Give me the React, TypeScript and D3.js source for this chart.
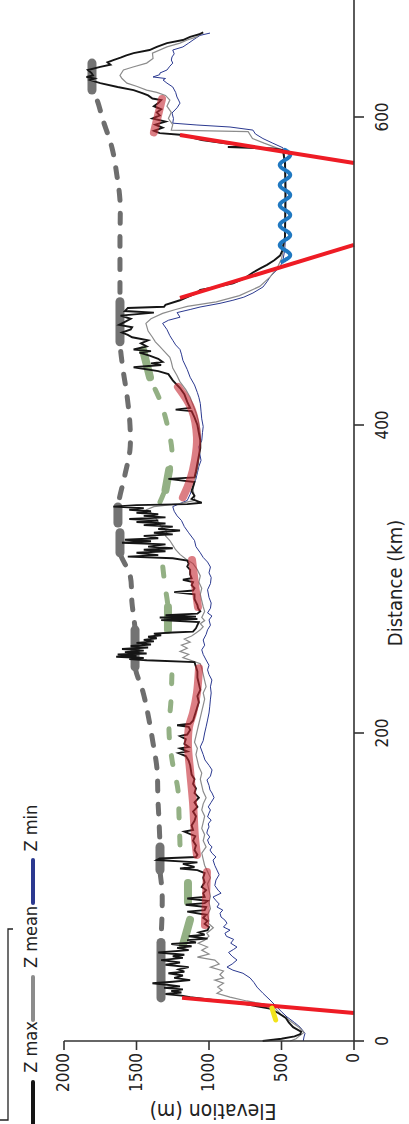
import React from "react";
import * as d3 from "d3";

// ---------- data (distance km, elevation m) ----------
const zMax: number[][] = [
[0,630],[1.5,500],[3,410],[4.5,370],[6,365],[9,420],[12,450],[15,470],[18,520],[21,580],[24,750],[26.5,960],[28.5,1130],[29.5,1190],
[30.5,1300],[31.5,1190],[32.5,1260],[33.5,1180],[34.5,1310],[35.5,1200],[36.5,1290],[37.5,1390],[38.5,1250],[39.5,1130],[41,1240],[42.5,1180],[44,1280],[45,1170],[46.5,1210],[48,1140],[49.5,1300],[51,1200],[52.5,1330],[54,1180],[55,1250],[56,1170],[57.5,1350],[59,1140],[60.5,1220],[61.5,1120],[63,1260],[64,1090],[65.5,1150],[66.5,1010],[68,1140],[69,1030],[70.5,1070],[72,1010],
[74,1000],[76,1030],[78,1010],[80,1040],[82,1020],[84,1150],[85,1030],[87,1020],[88.5,1160],[89.5,1030],[91,1010],[92.5,1150],[93.5,1030],[96,1040],[98,1020],[100,1050],[103,1030],[106,1040],[109,1030],[111,1080],[112,1200],[113,1100],[115,1180],[116,1080],[117.5,1360],[118.5,1340],[119.5,1090],
[121,1080],[124,1100],[127,1090],[130,1110],[133,1095],[136,1170],[137,1110],[140,1120],[143,1100],[146,1090],[149,1110],[152,1080],[155,1100],[158,1070],[161,1100],[164,1090],[167,1110],[170,1100],[173,1120],[176,1125],[179,1130],[182,1140],[185,1160],[187,1210],[188,1150],[190,1200],[191,1140],[193,1170],[196,1160],[198,1200],[199,1150],[202,1130],[204,1140],[205,1220],[206,1130],[208,1110],[211,1100],[214,1090],[217,1080],[220,1070],[224,1080],[228,1060],[232,1070],[236,1080],[240,1080],[243,1090],[246,1100],
[247.2,1430],[248,1550],[248.7,1450],[249.5,1640],[250.2,1500],[251,1630],[251.6,1430],[252.5,1580],[253.5,1450],[254.5,1600],[255.5,1420],[256.5,1540],[257.5,1400],[258.5,1500],[259.5,1380],[260.5,1450],[261.5,1360],[262.5,1420],[263.5,1330],[264.5,1380],[265.3,1250],[265.8,1110],
[268,1090],[270,1080],[272,1070],[273.3,1330],[274,1080],[275,1340],[275.6,1090],[276.5,1300],[277.5,1080],[279,1060],
[281,1075],[283,1080],[285,1090],[287,1100],[290,1100],[291.5,1240],[292.5,1110],[294,1100],[296,1120],[298,1110],[299.5,1180],[300.5,1120],[303,1130],[306,1130],[308,1150],[310,1140],[312,1150],
[313.5,1250],[314.5,1560],[315.5,1350],[317,1500],[318,1300],[319,1450],[320,1250],[321,1420],[322.5,1300],[323.5,1600],[324.5,1400],[325.5,1580],[326.5,1350],[328,1450],[329,1250],[330,1380],[331.5,1200],[332.5,1350],[334,1250],[335,1450],[336,1300],[337,1500],[338,1350],[339,1550],[340,1300],[341,1450],[342,1350],[343,1500],[344,1400],[345,1550],[346,1450],[347,1660],[348,1500],[348.6,1150],[349.5,1050],
[352,1120],[354,1100],[357,1120],[360,1110],[363,1100],[365,1280],[366,1100],[370,1090],[375,1080],[380,1070],[385,1060],[390,1060],[395,1070],[400,1080],[405,1100],[409,1120],[410,1230],[411,1130],[415,1150],[420,1170],[424,1200],
[429,1250],[433,1280],[435,1350],[437.5,1520],[439,1330],[440,1400],[441,1320],[443,1350],[445,1410],[447,1480],[448,1400],[449,1520],[451,1430],[453,1470],[455,1420],[457,1530],[458.5,1560],[460,1600],[462,1540],[463.5,1530],[465,1620],[467,1580],[469,1540],[471,1610],[473,1380],[474,1580],[476,1560],[476.8,1310],[478,1300],[481,1200],
[483,1150],[485.5,1090],[487.7,1060],[490,930],[492,834],[495,760],[499,697],[502,640],[504,600],[507,550],[510,510],[513,495],[516,490],[522,476],[530,475],[540,474],[550,473],[560,474],[570,476],[578.5,490],
[579.5,560],[580.5,870],[581,700],[583,900],[585,1050],[587,1130],[588.5,1200],[589.5,1340],
[591,1380],[593,1320],[595,1370],[597,1300],[599,1390],[601,1340],[603,1360],[605,1330],[607,1380],[609,1350],[611,1330],[612,1390],[614,1420],[615.5,1460],[617.5,1520],[619.5,1630],[622,1750],[624,1820],[625,1790],[626,1845],[627,1800],[628.5,1810],[630.5,1835],[632.5,1750],[634,1680],[635.5,1700],[637,1660],[638.5,1610],[640,1570],[641.5,1520],[643.5,1410],[645.5,1360],[648,1290],[650,1180],[652,1130],[654,1060],[655,1040]
];

const zMean: number[][] = [
[0,440],[1.5,400],[3,380],[5.5,345],[9,380],[13,440],[17,500],[21,540],[24,620],[26,740],[28.5,855],[31,945],[33,910],[35,940],[37.5,900],[39.5,960],[41,900],[43,925],[45.5,900],[48,990],[50,930],[52.5,960],[54.5,1080],[56.5,1000],[59,1050],[61,1010],[63.5,1075],[65.5,1030],[68,1000],[70,1015],[73.5,970],[76.5,1005],
[78,1000],[82,1010],[86,990],[90,1000],[94,990],[98,1000],[102,1010],[106,990],[110,1010],[114,1030],[118,1040],[122,1050],[126,1020],[130,1040],[134,1030],[138,1050],[142,1040],[146,1030],[150,1050],[154,1040],[158,1020],[162,1040],[166,1050],[170,1060],[174,1050],[178,1070],[182,1080],[186,1090],[190,1080],[194,1100],[198,1090],[202,1080],[206,1070],[210,1060],[214,1050],[218,1040],[222,1030],[226,1040],[230,1020],[234,1030],[238,1040],[242,1050],[245,1060],[247,1120],[249,1180],[251,1140],[253,1200],[255,1150],[257,1190],[259,1130],[261,1170],[263,1120],[265,1090],[267,1060],[269,1040],[271,1060],[273,1030],[275,1050],[277,1040],[279,1030],[282,1040],[286,1050],[290,1060],[294,1050],[298,1070],[302,1060],[306,1080],[310,1110],[313,1160],[316,1200],[319,1230],[322,1250],[325,1270],[328,1300],[331,1290],[334,1330],[337,1350],[340,1370],[343,1400],[345,1430],[347,1380],[349,1200],[351,1100],[353,1100],[358,1110],[363,1100],[368,1090],[373,1075],[378,1070],[383,1065],[388,1060],[393,1060],[398,1065],[403,1075],[408,1090],[413,1110],[418,1130],[423,1160],[428,1200],[432,1220],[437,1250],[441,1260],[444,1270],[448,1310],[451,1340],[454,1370],[457,1390],[461,1420],[466,1435],[469,1400],[472.5,1320],[475,1230],[477,1150],[480,950],[484,790],[490,650],[496,580],[502,530],[508,500],[514,485],[520,478],[530,475],[540,474],[550,473],[560,474],[570,476],[578.5,490],[583,620],[586,700],[590.5,730],[591.5,1260],[595,1250],[599,1280],[603,1260],[607,1290],[611,1270],[614,1300],[616,1360],[617.5,1430],[620,1500],[622,1566],[625,1600],[627,1614],[630.5,1590],[632.5,1524],[635,1430],[638,1386],[641.5,1390],[645.5,1290],[648,1200],[650,1150],[652,1085],[654.5,1060]
];

const zMin: number[][] = [
[0,350],[2.6,345],[5,338],[9,372],[12,410],[15.6,462],[19,500],[22,531],[26.6,579],[31,628],[35,669],[38,690],[41,717],[44,766],[46,835],[48,876],[50,840],[52.6,807],[55,840],[57.5,865],[59.5,830],[61,807],[63.5,850],[66,830],[68,880],[70,890],[72,855],[74,900],[76.5,876],[78.5,890],[80.5,917],[83,924],[85,905],[87,945],[89,930],[91,950],[93.5,972],[96,917],[98,938],[101,960],[104.5,952],[108,930],[111,945],[114,960],[117.5,972],[119.5,952],[122,980],[124,993],[126,979],[128,1000],[130.5,1010],[132.5,995],[135,1015],[137,1010],[139,1000],[141,1005],[143.5,985],[145.5,1010],[148,1000],[150,990],[152,1005],[155,985],[158,965],[161,979],[163,993],[166,1000],[169.5,1014],[172,990],[176,979],[179,1000],[182.5,1028],[186,1040],[191,1060],[195,1040],[200,1030],[204,1020],[208.4,1010],[213,1000],[217,995],[222,990],[226,985],[230,990],[234.4,980],[238,1000],[241,1010],[244,1000],[247.4,1020],[251,1040],[254,1050],[257,1030],[260.4,1040],[264,1020],[267,1010],[270,990],[273.4,1000],[276,980],[278,1010],[281,990],[284.4,985],[288,1000],[293,1010],[297,990],[301,985],[304,1000],[307.8,990],[311,1010],[314,1040],[317,1060],[321,1090],[325,1100],[330,1140],[334,1170],[338,1190],[341,1220],[344,1240],[347,1250],[349,1200],[351,1150],[355,1130],[360,1110],[365,1090],[369,1080],[373,1070],[377,1055],[382,1065],[386,1070],[390,1050],[395,1045],[399,1040],[404,1050],[409,1055],[414,1060],[418,1070],[421,1080],[426,1100],[431,1130],[436,1150],[442,1180],[446,1190],[449,1200],[452,1230],[455,1250],[458,1270],[462,1290],[466,1320],[468,1280],[470,1200],[473,1220],[475,1130],[476.6,1062],[479,924],[481,835],[483,760],[485.7,697],[489.6,628],[493,600],[496,580],[500,540],[502.6,510],[507,490],[513.6,478],[520,474],[530,472],[540,471],[550,470],[560,471],[570,472],[580,490],[583,560],[586,628],[589,680],[591.5,697],[593.5,855],[594.8,1083],[596,1250],[599,1245],[602.6,1255],[606,1220],[609,1200],[611,1210],[613,1221],[616,1230],[619.5,1250],[622,1290],[624,1317],[625,1300],[626,1386],[627.5,1340],[628.6,1338],[630.5,1290],[633,1270],[635,1250],[637,1260],[639,1255],[641,1240],[643.5,1250],[645.5,1180],[648,1140],[650,1110],[653,1062],[654.5,993]
];

// envelope of summits (gray dashed) and its thick marks
const summitEnvelope: number[][] = [
[28,1331],[64,1331],[82,1324],[98,1324],[111,1338],[126,1338],[143.5,1345],[156.5,1352],[177,1359],[193.5,1386],[211.7,1420],[226.6,1455],[243,1510],[267,1510],[284.4,1531],[302.6,1545],[317,1614],[330,1614],[336.4,1628],[346.8,1628],[367.5,1580],[384,1545],[400,1545],[419.5,1566],[436,1593],[454,1614],[480,1614],[494,1614],[520,1614],[546,1614],[562,1635],[580,1669],[598,1731],[611,1772],[617.5,1807],[635,1807]
];
const summitMarks: number[][][] = [
[[28,1331],[64,1331]],
[[111,1338],[126,1338]],
[[243,1510],[267,1510]],
[[317,1614],[330,1614]],
[[336.4,1628],[346.8,1628]],
[[454,1614],[480,1614]],
[[617.5,1807],[635,1807]]
];

// green dashed arcs and their thick marks
const greenArcs: number[][][] = [
[[127.3,1200],[146.8,1207],[163,1214],[182.5,1255],[202,1276],[221.4,1262],[241,1255]],
[[267,1283],[281.8,1283],[296,1304],[312.3,1324]],
[[350,1338],[357.8,1304],[370.8,1269],[382.5,1255],[401,1290],[416,1338],[431,1407],[448.7,1455]]
];
const greenMarks: number[][][] = [
[[62.3,1180],[78.6,1131]],
[[90.3,1145],[102.6,1145]],
[[267,1283],[281.8,1283]],
[[357.8,1300],[370.8,1275]],
[[431,1407],[448.7,1455]]
];

// red translucent segments
const redSegments: number[][][] = [
[[75.3,1028],[109.7,1014]],
[[120.8,1083],[132.5,1097],[154.5,1110],[176,1131],[192,1145],[204,1138],[213,1110],[226,1083],[242,1069]],
[[281.8,1076],[297,1097],[312.3,1117]],
[[353,1180],[364,1131],[377,1097],[392,1083],[409.7,1117],[424.7,1214]],
[[590,1380],[611.7,1324]]
];

// bright red fault lines
const faults: number[][][] = [
[[28,1186],[18.2,0]],
[[482.5,1200],[517,0]],
[[588.3,1200],[570.1,0]]
];

const yellowSeg: number[][] = [[13.6,540],[21.4,566]];

const waveExtent = [505.8, 578.6];
const waveCenter = 476;
const wavePeriod = 13;
const waveAmp = 36;

const distTicks = [0, 200, 400, 600];
const elevTicks = [0, 500, 1000, 1500, 2000];

const legendItems = [
  { label: "Z max", color: "#151515" },
  { label: "Z mean", color: "#8c8c8c" },
  { label: "Z min", color: "#2b3990" },
];

const FONT = "'Liberation Sans Narrow', 'DejaVu Sans Condensed', 'Arial Narrow', sans-serif";

export default function App() {
  const yS = d3.scaleLinear().domain([0, 600]).range([1041, 117]);
  const xS = d3.scaleLinear().domain([0, 2000]).range([354, 64]);

  const lin = d3.line<number[]>().x(p => xS(p[1])).y(p => yS(p[0]));
  const smooth = d3.line<number[]>().x(p => xS(p[1])).y(p => yS(p[0])).curve(d3.curveCatmullRom.alpha(0.5));

  const wavePts: number[][] = [];
  for (let d = waveExtent[1]; d >= waveExtent[0]; d -= 0.2) {
    wavePts.push([d, waveCenter + waveAmp * Math.sin((2 * Math.PI * (d - waveExtent[1])) / wavePeriod)]);
  }

  const legendY = [1047, 937, 828];
  const legendLine = [[1082, 1130], [977, 1020], [860, 903]];

  return (
    <svg width={409} height={1124} style={{ position: "absolute", left: 0, top: 0, background: "#fff" }} fontFamily={FONT}>
      {/* summit envelope */}
      <path d={smooth(summitEnvelope) || ""} fill="none" stroke="#6e6e6e" strokeWidth={5} strokeDasharray="10 13" strokeLinecap="round" />
      {summitMarks.map((s, i) => (
        <path key={"sm" + i} d={lin(s) || ""} fill="none" stroke="#737373" strokeWidth={9} strokeLinecap="round" />
      ))}
      {/* green arcs */}
      {greenArcs.map((s, i) => (
        <path key={"ga" + i} d={smooth(s) || ""} fill="none" stroke="#93b084" strokeWidth={5} strokeDasharray="9 18" strokeLinecap="round" />
      ))}
      {greenMarks.map((s, i) => (
        <path key={"gm" + i} d={lin(s) || ""} fill="none" stroke="#93b084" strokeWidth={8} strokeLinecap="round" />
      ))}
      {/* profiles */}
      <path d={lin(zMin) || ""} fill="none" stroke="#2b3990" strokeWidth={1} />
      <path d={lin(zMean) || ""} fill="none" stroke="#8c8c8c" strokeWidth={1.2} />
      <path d={lin(zMax) || ""} fill="none" stroke="#151515" strokeWidth={1.9} />
      {/* red translucent */}
      {redSegments.map((s, i) => (
        <path key={"rs" + i} d={smooth(s) || ""} fill="none" stroke="rgb(196,40,50)" strokeOpacity={0.6} strokeWidth={8} strokeLinecap="round" />
      ))}
      {/* wave */}
      <path d={lin(wavePts) || ""} fill="none" stroke="#1f78c1" strokeWidth={4} strokeLinecap="round" />
      {/* faults */}
      {faults.map((s, i) => (
        <path key={"f" + i} d={lin(s) || ""} fill="none" stroke="#ee1c25" strokeWidth={4} />
      ))}
      <path d={lin(yellowSeg) || ""} fill="none" stroke="#f2e31a" strokeWidth={5} strokeLinecap="round" />

      {/* distance axis */}
      <line x1={354} x2={354} y1={yS(0)} y2={yS(680)} stroke="#333" strokeWidth={1.6} />
      {distTicks.map(t => (
        <g key={"dt" + t}>
          <line x1={354} x2={364} y1={yS(t)} y2={yS(t)} stroke="#333" strokeWidth={1.6} />
          <text transform={`translate(388,${yS(t)}) rotate(-90)`} textAnchor="middle" fontSize={17} fill="#222">{t}</text>
        </g>
      ))}
      <text transform={`translate(402,583) rotate(-90)`} textAnchor="middle" fontSize={20} fill="#222">Distance (km)</text>

      {/* elevation axis */}
      <line x1={xS(2000)} x2={354} y1={1041} y2={1041} stroke="#333" strokeWidth={1.6} />
      {elevTicks.map(t => (
        <g key={"et" + t}>
          <line x1={xS(t)} x2={xS(t)} y1={1041} y2={1050} stroke="#333" strokeWidth={1.6} />
          <text transform={`translate(${xS(t) + 5},1053) rotate(-90)`} textAnchor="end" fontSize={17} fill="#222">{t}</text>
        </g>
      ))}
      <text transform={`translate(213,1104) rotate(180)`} textAnchor="middle" fontSize={21} fill="#222">Elevation (m)</text>

      {/* legend */}
      <path d="M0,1120 L8,1120 L8,929 L13,929" fill="none" stroke="#222" strokeWidth={1.3} />
      {legendItems.map((it, i) => (
        <g key={"lg" + i}>
          <line x1={33} x2={33} y1={legendLine[i][0]} y2={legendLine[i][1]} stroke={it.color} strokeWidth={4} strokeLinecap="round" />
          <text transform={`translate(37,${legendY[i]}) rotate(-90)`} textAnchor="middle" fontSize={18} fill="#222">{it.label}</text>
        </g>
      ))}
    </svg>
  );
}
